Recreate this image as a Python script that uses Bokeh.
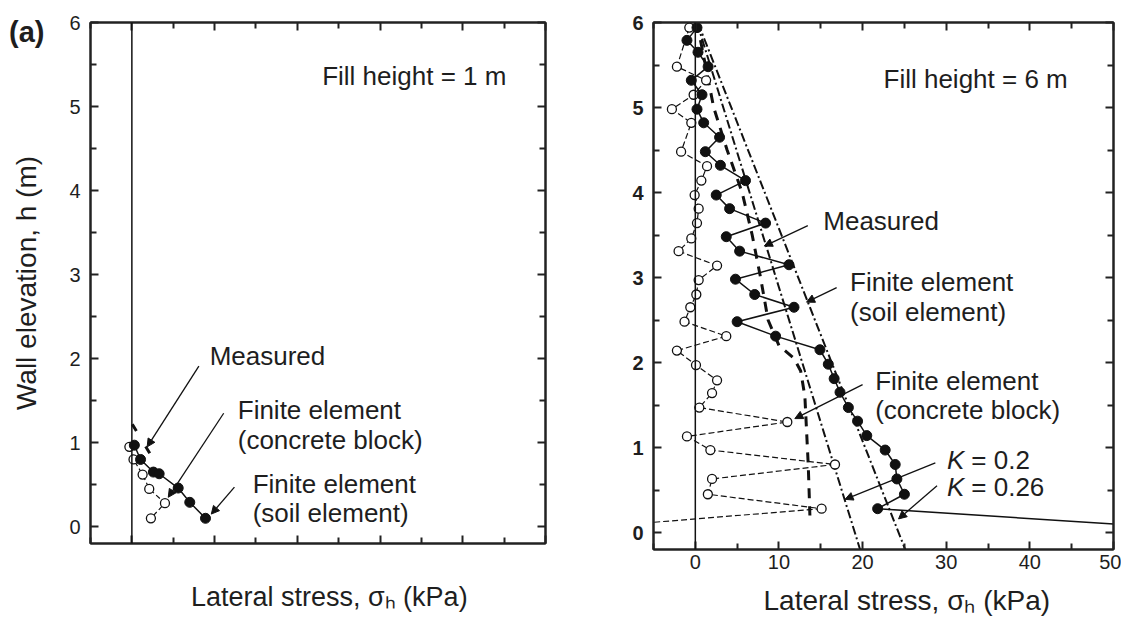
from bokeh.plotting import figure
from bokeh.models import (Range1d, FixedTicker, LinearAxis, Span, Label, Arrow, NormalHead)
from bokeh.layouts import row
from bokeh.embed import file_html
from bokeh.resources import INLINE

# ---------------- data : panel (a), fill height = 1 m ----------------
a_soil_x = [0.3, 1.05, 2.6, 3.3, 5.6, 7.0, 8.9]
a_soil_h = [0.97, 0.80, 0.65, 0.63, 0.46, 0.29, 0.10]
a_conc_x = [-0.3, 0.2, 1.3, 2.1, 4.0, 2.3]
a_conc_h = [0.95, 0.80, 0.62, 0.45, 0.28, 0.10]
a_meas_x = [0.05, 2.3]
a_meas_h = [1.22, 0.85]

# ---------------- data : panel (b), fill height = 6 m ----------------
b_soil_x = [0.2, -1.0, 0.32, 1.53, -0.48, 0.8, 0.2, 1.0, 2.9, 1.2,
            3.0, 6.0, 2.5, 4.1, 8.4, 3.7, 5.3, 11.2, 4.8, 7.1,
            11.8, 5.0, 9.6, 14.9, 15.9, 16.6, 17.3, 18.3, 19.4, 20.5,
            22.7, 23.9, 24.1, 25.0, 21.8]
b_soil_h = [5.94, 5.79, 5.65, 5.48, 5.32, 5.15, 4.98, 4.82, 4.65, 4.48,
            4.32, 4.14, 3.97, 3.81, 3.64, 3.48, 3.31, 3.15, 2.98, 2.80,
            2.65, 2.48, 2.31, 2.15, 1.98, 1.81, 1.65, 1.47, 1.31, 1.14,
            0.97, 0.80, 0.63, 0.45, 0.28]
b_soil_tail_x = [21.8, 50.0]
b_soil_tail_h = [0.28, 0.10]

b_conc_x = [-0.72, -2.2, 1.29, -0.2, -2.8, -0.48, -1.7, 1.4, 0.72, -0.08,
            0.4, 0.2, -0.48, -2.0, 2.6, 0.4, 0.12, -0.6, -1.29, 3.7,
            -2.2, 0.08, 2.6, 2.0, 0.48, 11.0, -1.0, 1.8, 16.7, 2.0,
            1.5, 15.1]
b_conc_h = [5.94, 5.48, 5.32, 5.15, 4.98, 4.82, 4.48, 4.31, 4.14, 3.97,
            3.81, 3.64, 3.46, 3.31, 3.14, 2.97, 2.80, 2.65, 2.48, 2.31,
            2.14, 1.97, 1.79, 1.64, 1.47, 1.30, 1.13, 0.97, 0.80, 0.63,
            0.45, 0.28]
b_conc_tail_x = [15.1, -5.0]
b_conc_tail_h = [0.28, 0.12]

b_meas_x = [0.2, 1.2, 2.2, 3.8, 5.6, 6.8, 7.8, 8.7, 10.0, 11.8, 12.6, 13.1, 13.3, 13.5, 13.7]
b_meas_h = [6.0, 5.5, 5.0, 4.5, 4.0, 3.5, 3.0, 2.5, 2.2, 2.05, 1.9, 1.6, 1.2, 0.8, 0.2]

k020_x = [0.2, 19.7]
k020_h = [6.0, -0.2]
k026_x = [0.3, 25.1]
k026_h = [6.0, -0.2]

x_major = [0, 10, 20, 30, 40, 50]
x_minor = [-5, 5, 15, 25, 35, 45]
y_major = [0, 1, 2, 3, 4, 5, 6]
y_minor = [0.5, 1.5, 2.5, 3.5, 4.5, 5.5]

x_title = "Lateral stress, σₕ (kPa)"
y_title = "Wall elevation, h (m)"
panel_tag = "(a)"

# ---------------- style ----------------
FONT_NAME = "Liberation Sans"
TXT = "#1e1e1e"
LINE = "#111111"
X_RANGE = (-5, 50)
Y_RANGE = (-0.2, 6.0)
NBSP = "\u00a0"


def style_axis(ax, show_labels, bold=False, xaxis=True):
    ax.ticker = FixedTicker(ticks=x_major if xaxis else y_major,
                            minor_ticks=x_minor if xaxis else y_minor)
    ax.major_tick_in = 8
    ax.major_tick_out = 0
    ax.minor_tick_in = 6
    ax.minor_tick_out = 0
    ax.major_tick_line_color = "#222222"
    ax.minor_tick_line_color = "#222222"
    ax.major_tick_line_width = 2
    ax.minor_tick_line_width = 2
    ax.axis_line_color = "#222222"
    ax.axis_line_width = 2
    ax.axis_label = None
    if show_labels:
        ax.major_label_text_font = FONT_NAME
        ax.major_label_text_font_size = "20px"
        ax.major_label_text_color = TXT
        ax.major_label_text_font_style = "bold" if bold else "normal"
        ax.major_label_standoff = 10 if not xaxis else 5
    else:
        ax.major_label_text_color = None
        ax.major_label_text_font_size = "1px"
        ax.major_label_standoff = 0


def title_axis(ax, text, size, standoff):
    ax.axis_label = text
    ax.axis_label_text_font = FONT_NAME
    ax.axis_label_text_font_size = f"{size}px"
    ax.axis_label_text_font_style = "normal"
    ax.axis_label_text_color = TXT
    ax.axis_label_standoff = standoff


def make_fig(fw, fh, bl, br, bt, bb, xlabels, ybold):
    p = figure(width=bl + fw + br, height=bt + fh + bb,
               frame_width=fw, frame_height=fh,
               x_range=Range1d(*X_RANGE), y_range=Range1d(*Y_RANGE),
               output_backend="svg", toolbar_location=None,
               min_border_left=bl, min_border_right=br,
               min_border_top=bt, min_border_bottom=bb)
    p.grid.visible = False
    p.outline_line_color = "#222222"
    p.outline_line_width = 2
    p.background_fill_color = "white"
    p.border_fill_color = "white"
    bottom = p.below[0]
    left = p.left[0]
    style_axis(bottom, xlabels, xaxis=True)
    style_axis(left, True, bold=ybold, xaxis=False)
    top = LinearAxis()
    style_axis(top, False, xaxis=True)
    p.add_layout(top, "above")
    right = LinearAxis()
    style_axis(right, False, xaxis=False)
    p.add_layout(right, "right")
    p.add_layout(Span(location=0, dimension="height", line_color=LINE, line_width=1.5))
    return p, bottom, left


def txt(p, x, y, s, size=26, style="normal"):
    p.add_layout(Label(x=x, y=y, text=s, text_font=FONT_NAME, text_font_size=f"{size}px",
                       text_font_style=style, text_color=TXT, text_align="left",
                       text_baseline="middle"))


def arrow(p, x0, y0, x1, y1):
    p.add_layout(Arrow(end=NormalHead(size=8, fill_color=LINE, line_color=LINE, line_width=1),
                       x_start=x0, y_start=y0, x_end=x1, y_end=y1,
                       line_color=LINE, line_width=1.3))


# ---------------- panel (a) ----------------
pa, pa_bottom, pa_left = make_fig(455, 521, 90, 40, 22, 79, xlabels=False, ybold=False)
title_axis(pa_left, y_title, 28, 24)
title_axis(pa_bottom, NBSP * 3 + x_title, 27, 38)

# outer left axis that only carries the panel tag "(a)" next to the top tick
TAG_Y = 5.89
tag_axis = LinearAxis(ticker=FixedTicker(ticks=[TAG_Y]),
                      major_label_overrides={TAG_Y: panel_tag},
                      axis_line_color=None, major_tick_line_color=None,
                      minor_tick_line_color=None, major_tick_out=0, major_tick_in=0,
                      minor_tick_out=0, minor_tick_in=0,
                      major_label_text_font=FONT_NAME, major_label_text_font_size="29px",
                      major_label_text_font_style="bold", major_label_text_color=TXT,
                      major_label_standoff=-36)
pa.add_layout(tag_axis, "left")

pa.line(a_meas_x, a_meas_h, line_color=LINE, line_width=3, line_dash="8 18")
pa.line(a_conc_x, a_conc_h, line_color=LINE, line_width=1.2, line_dash="5 3")
pa.scatter(a_conc_x, a_conc_h, marker="circle", size=9, fill_color="white",
           line_color=LINE, line_width=1.3)
pa.line(a_soil_x, a_soil_h, line_color=LINE, line_width=1.5)
pa.scatter(a_soil_x, a_soil_h, marker="circle", size=10, fill_color=LINE, line_color=LINE)

txt(pa, 23.0, 5.36, "Fill height = 1 m")
txt(pa, 9.4, 2.03, "Measured")
txt(pa, 12.8, 1.39, "Finite element")
txt(pa, 12.8, 1.03, "(concrete block)")
txt(pa, 14.6, 0.51, "Finite element")
txt(pa, 14.6, 0.16, "(soil element)")
arrow(pa, 8.1, 1.91, 1.85, 0.95)
arrow(pa, 11.1, 1.35, 4.4, 0.35)
arrow(pa, 12.4, 0.47, 9.6, 0.15)

# ---------------- panel (b) ----------------
pb, pb_bottom, pb_left = make_fig(460, 527, 68, 8, 22, 73, xlabels=True, ybold=True)
title_axis(pb_bottom, NBSP * 6 + x_title, 28, 13)

pb.line(k020_x, k020_h, line_color=LINE, line_width=2, line_dash="9 3 2 3")
pb.line(k026_x, k026_h, line_color=LINE, line_width=2, line_dash="9 3 2 3")
pb.line(b_meas_x, b_meas_h, line_color=LINE, line_width=3, line_dash="10 8")
pb.line(b_conc_x, b_conc_h, line_color=LINE, line_width=1.2, line_dash="6 3")
pb.line(b_conc_tail_x, b_conc_tail_h, line_color=LINE, line_width=1.2, line_dash="6 3")
pb.scatter(b_conc_x, b_conc_h, marker="circle", size=9, fill_color="white",
           line_color=LINE, line_width=1.3)
pb.line(b_soil_x, b_soil_h, line_color=LINE, line_width=1.5)
pb.line(b_soil_tail_x, b_soil_tail_h, line_color=LINE, line_width=1.5)
pb.scatter(b_soil_x, b_soil_h, marker="circle", size=10, fill_color=LINE, line_color=LINE)

txt(pb, 22.5, 5.33, "Fill height = 6 m")
txt(pb, 15.3, 3.66, "Measured")
txt(pb, 18.5, 2.95, "Finite element")
txt(pb, 18.5, 2.60, "(soil element)")
txt(pb, 21.5, 1.78, "Finite element")
txt(pb, 21.5, 1.44, "(concrete block)")
txt(pb, 30.1, 0.85, "K", style="italic")
txt(pb, 33.0, 0.85, "= 0.2")
txt(pb, 30.1, 0.53, "K", style="italic")
txt(pb, 33.0, 0.53, "= 0.26")
arrow(pb, 13.45, 3.61, 8.25, 3.37)
arrow(pb, 16.9, 2.88, 13.3, 2.71)
arrow(pb, 20.0, 1.74, 11.9, 1.34)
arrow(pb, 28.7, 0.82, 17.9, 0.39)
arrow(pb, 28.9, 0.55, 24.3, 0.16)

layout = row(pa, pb)
open("out.html", "w").write(file_html(layout, INLINE))
